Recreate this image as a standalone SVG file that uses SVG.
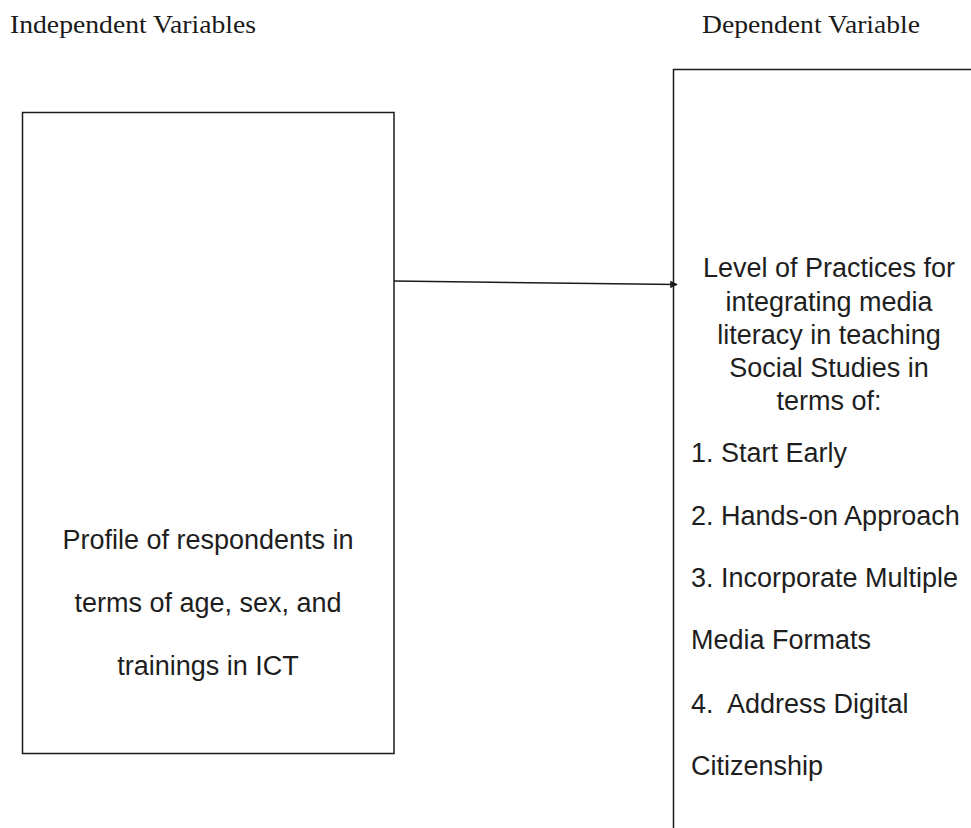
<svg xmlns="http://www.w3.org/2000/svg" width="971" height="828" viewBox="0 0 971 828">
<style>
.box{fill:#fff;stroke:#1a1a1a;stroke-width:1.5}
.title{font-family:"Liberation Serif","Times New Roman",serif;font-size:25px;fill:#1a1a1a}
.t{font-family:"Liberation Sans",Arial,sans-serif;font-size:27px;fill:#1e1e1e}
.c{text-anchor:middle}
.conn{stroke:#1a1a1a;stroke-width:1.5;fill:none}
</style>
<defs>
<marker id="ah" viewBox="0 0 10 10" refX="9" refY="5" markerWidth="5" markerHeight="5" orient="auto" markerUnits="strokeWidth">
<path d="M0,0 L10,5 L0,10 Z" fill="#1a1a1a"/>
</marker>
</defs>
<rect width="971" height="828" fill="#fff"/>
<text class="title" x="10" y="33" textLength="246" lengthAdjust="spacingAndGlyphs">Independent Variables</text>
<text class="title" x="702" y="33" textLength="218" lengthAdjust="spacingAndGlyphs">Dependent Variable</text>
<g id="independent">
<rect class="box" x="22.5" y="112.5" width="371.5" height="641"/>
<text class="t c" x="208" y="549">Profile of respondents in</text>
<text class="t c" x="208" y="612">terms of age, sex, and</text>
<text class="t c" x="208" y="675">trainings in ICT</text>
</g>
<g id="dependent">
<rect class="box" x="673.5" y="69.5" width="330" height="800"/>
<text class="t c" x="829" y="277">Level of Practices for</text>
<text class="t c" x="829" y="311">integrating media</text>
<text class="t c" x="829" y="344">literacy in teaching</text>
<text class="t c" x="829" y="377">Social Studies in</text>
<text class="t c" x="829" y="410">terms of:</text>
<text class="t" x="691" y="462">1. Start Early</text>
<text class="t" x="691" y="525">2. Hands-on Approach</text>
<text class="t" x="691" y="587">3. Incorporate Multiple</text>
<text class="t" x="691" y="649">Media Formats</text>
<text class="t" x="691" y="713" xml:space="preserve">4.  Address Digital</text>
<text class="t" x="691" y="775">Citizenship</text>
</g>
<g id="connectors">
<line class="conn" x1="394" y1="281" x2="677" y2="284.5" marker-end="url(#ah)"/>
</g>
</svg>
